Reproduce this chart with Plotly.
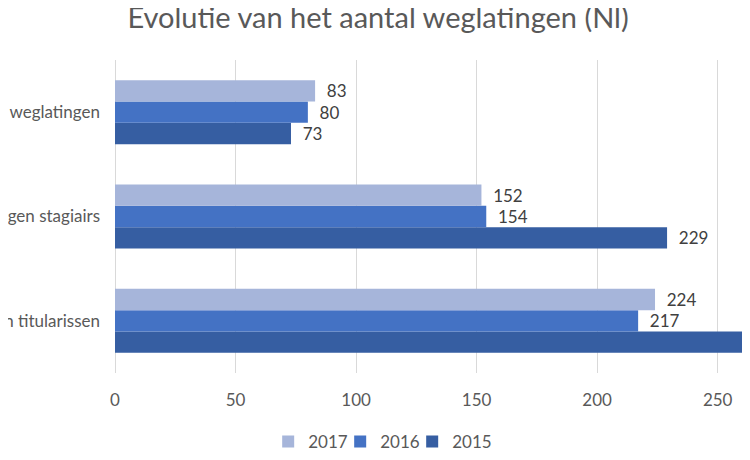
import plotly.graph_objects as go

categories = ["Weglatingen titularissen", "Weglatingen stagiairs", "Overige weglatingen"]
years = ["2015", "2016", "2017"]
values_2015 = [285, 229, 73]
values_2016 = [217, 154, 80]
values_2017 = [224, 152, 83]
series = {"2015": values_2015, "2016": values_2016, "2017": values_2017}
colors = {"2017": "#A6B5DA", "2016": "#4472C4", "2015": "#365EA2"}

FONT = "Lato, Open Sans, sans-serif"
XMAX = 263.4
NB = "\u00a0\u00a0"

fig = go.Figure()
# empty, invisible legend spacer (keeps the last legend label from being clipped)
fig.add_trace(go.Scatter(x=[None], y=[None], mode="markers", name="\u00a0",
                         marker=dict(color="rgba(0,0,0,0)", size=1),
                         showlegend=True, hoverinfo="skip"))
for yr in years:
    vals = series[yr]
    fig.add_trace(go.Bar(
        name=yr, y=categories, x=vals, orientation="h",
        marker=dict(color=colors[yr], line=dict(width=0)),
        text=[NB + str(v) for v in vals],
        textposition="outside",
        textfont=dict(family=FONT, size=17, color="#404040"),
        cliponaxis=True,
    ))

fig.update_layout(
    width=742, height=452,
    paper_bgcolor="white", plot_bgcolor="white",
    barmode="group", bargap=0.387, bargroupgap=0,
    margin=dict(l=107, r=0, t=52, b=87),
    title=dict(text="Evolutie van het aantal weglatingen (Nl)", x=0.4987, xanchor="center",
               y=0.978, yanchor="middle",
               font=dict(family=FONT, size=29, color="#595959")),
    xaxis=dict(range=[0, XMAX], dtick=50, showgrid=True, gridcolor="#D9D9D9", gridwidth=1,
               zeroline=True, zerolinecolor="#D9D9D9", zerolinewidth=1,
               showline=False, ticks="", ticklabelstandoff=15,
               tickfont=dict(family=FONT, size=17, color="#595959"), fixedrange=True),
    yaxis=dict(type="category", categoryorder="array", categoryarray=categories,
               showgrid=False, zeroline=False, showline=False, ticks="",
               ticklabelstandoff=14, automargin=False,
               tickfont=dict(family=FONT, size=17, color="#595959")),
    legend=dict(orientation="h", x=0.468, xanchor="center", y=-0.222, yanchor="middle",
                traceorder="reversed", font=dict(family=FONT, size=17, color="#595959"),
                itemwidth=30, entrywidth=27, entrywidthmode="pixels"),
    showlegend=True,
)

fig.write_html("out.html")
